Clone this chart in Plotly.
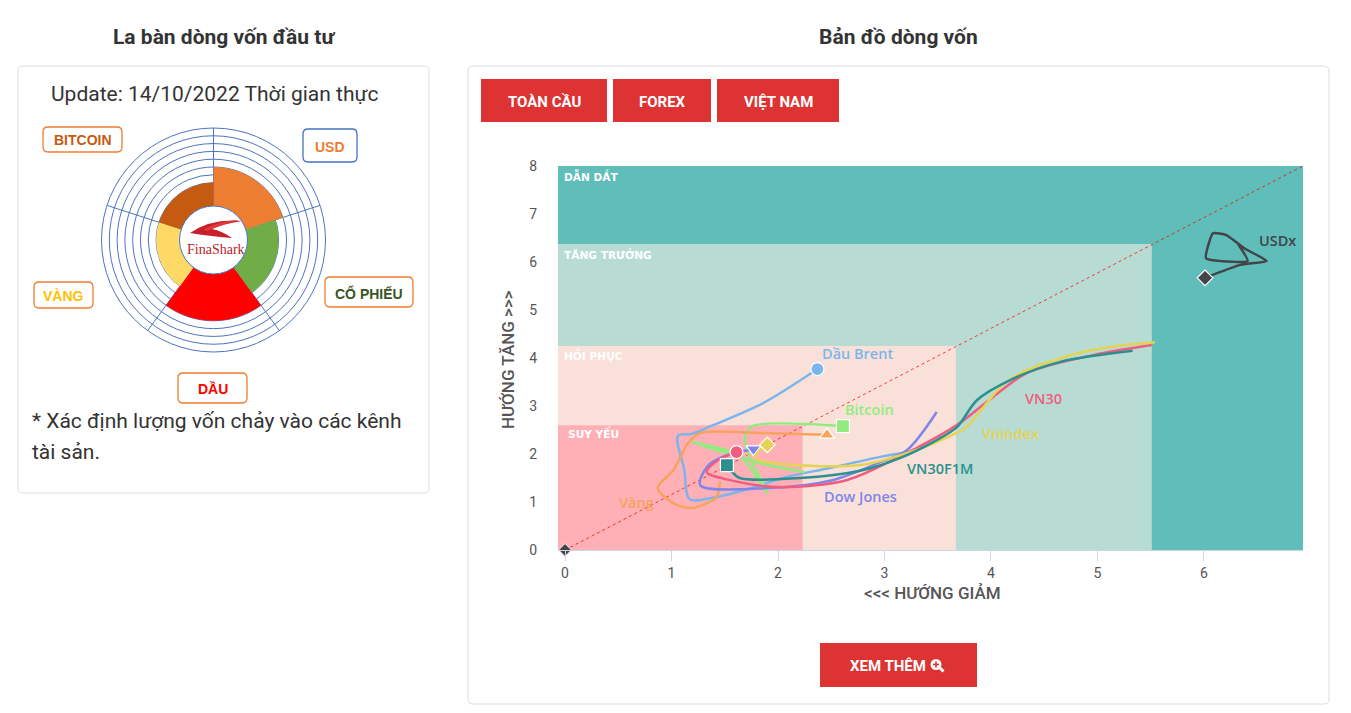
import plotly.graph_objects as go

W, H = 1351, 713
# the page shows the figure with an 8px top offset and a vertical scale of 697/713
OFF, HV = 8, 697

# ---------------- DATA ----------------
compass_names = ["USD", "CỔ PHIẾU", "DẦU", "VÀNG", "BITCOIN"]
compass_levels = [5, 4, 6, 3, 3]
compass_theta = [36, 108, 180, 252, 324]
compass_colors = ["#ED7D31", "#70AD47", "#FF0000", "#FFD966", "#C55A11"]
compass_rings = 10

zone_x = [2.23, 3.67, 5.51]        # SUY YẾU / HỒI PHỤC / TĂNG TRƯỞNG right edges
zone_y = [2.6, 4.25, 6.375]        # top edges
zone_names = ["SUY YẾU", "HỒI PHỤC", "TĂNG TRƯỞNG", "DẪN DẮT"]
x_min, x_max = -0.066, 6.93
y_min, y_max = 0, 8
x_ticks = [0, 1, 2, 3, 4, 5, 6]
y_ticks = [0, 1, 2, 3, 4, 5, 6, 7, 8]

diag_x = [0, 6.93]
diag_y = [0, 8]
origin_x = [0]
origin_y = [0]

brent_x = [3.17, 2.96, 2.49, 2.08, 1.69, 1.41, 1.17, 1.12, 1.06, 1.19, 1.39, 1.86, 2.37]
brent_y = [2.02, 1.94, 1.71, 1.52, 1.25, 1.10, 1.06, 1.67, 2.375, 2.42, 2.60, 3.06, 3.77]

bitcoin_x = [2.25, 1.83, 1.19, 1.64, 1.90, 1.72, 1.69, 1.76, 2.61]
bitcoin_y = [1.625, 1.81, 2.25, 1.96, 1.19, 2.00, 2.35, 2.58, 2.58]

vang_x = [1.455, 1.42, 1.20, 1.03, 0.87, 1.02, 1.155, 1.27, 1.83, 2.46]
vang_y = [1.42, 1.10, 0.875, 0.96, 1.29, 1.67, 2.23, 2.44, 2.44, 2.40]

dow_x = [3.49, 3.21, 2.96, 2.52, 1.90, 1.27, 1.34, 1.50, 1.77]
dow_y = [2.875, 2.08, 1.83, 1.46, 1.29, 1.35, 1.75, 1.96, 2.10]

vn30_x = [5.51, 4.96, 4.34, 4.02, 3.71, 3.49, 3.12, 2.65, 2.02, 1.58, 1.33, 1.44, 1.61]
vn30_y = [4.27, 4.06, 3.69, 3.19, 2.65, 2.35, 1.92, 1.46, 1.31, 1.44, 1.625, 1.875, 2.04]

vn30f_x = [5.33, 4.65, 4.18, 3.87, 3.68, 3.49, 3.15, 2.77, 2.21, 1.64, 1.56, 1.52]
vn30f_y = [4.15, 3.92, 3.54, 3.125, 2.56, 2.29, 1.92, 1.65, 1.50, 1.50, 1.65, 1.77]

vnindex_x = [5.54, 4.96, 4.34, 4.11, 3.96, 3.77, 3.64, 3.24, 2.77, 2.05, 1.78, 1.90]
vnindex_y = [4.33, 4.17, 3.75, 3.44, 3.06, 2.56, 2.40, 2.04, 1.77, 1.79, 1.92, 2.19]

usdx_x = [6.32, 6.41, 6.02, 6.085, 6.21, 6.39, 6.59, 6.34, 6.01]
usdx_y = [6.375, 6.02, 6.08, 6.60, 6.56, 6.27, 6.02, 5.94, 5.67]

series_names = ["Dầu Brent", "USDx", "Bitcoin", "Vàng", "Dow Jones", "VN30", "Vnindex", "VN30F1M"]
series_x = [brent_x, usdx_x, bitcoin_x, vang_x, dow_x, vn30_x, vnindex_x, vn30f_x]
series_y = [brent_y, usdx_y, bitcoin_y, vang_y, dow_y, vn30_y, vnindex_y, vn30f_y]

# ---------------- STYLE ----------------
series_colors = ["#7CB5EC", "#434348", "#90ED7D", "#F7A35C", "#8085E9", "#F15C80", "#E4D354", "#2B908F"]
series_symbols = ["circle", "diamond", "square", "triangle-up", "triangle-down", "circle", "diamond", "square"]
series_msize = [13, 12, 13, 13, 13, 13, 12, 13]
series_smooth = [0.9, 0.45, 0.8, 0.8, 0.9, 0.9, 0.9, 0.9]
label_pos = [(2.75, 4.10), (6.69, 6.44), (2.855, 2.92), (0.667, 0.98),
             (2.77, 1.125), (4.49, 3.15), (4.18, 2.42), (3.52, 1.69)]
zone_colors = ["#ffb0b6", "#f9e1d9", "#b8dcd4", "#5fbdba"]
zone_label_colors = ["#FF0000", "#FFC000", "#70AD47", "#2E75B6"]
zone_label_boxes = [(562, 424, 644, 441), (558, 347, 648, 363), (558, 246, 673, 262), (558, 168, 637, 185)]
BTN = "#DD3333"


def X(px):
    return px / W


def Y(py):
    return 1 - (py - OFF) / HV


def rr(x0, y0, x1, y1, r):
    return (f"M {X(x0 + r)},{Y(y0)} L {X(x1 - r)},{Y(y0)} Q {X(x1)},{Y(y0)} {X(x1)},{Y(y0 + r)} "
            f"L {X(x1)},{Y(y1 - r)} Q {X(x1)},{Y(y1)} {X(x1 - r)},{Y(y1)} "
            f"L {X(x0 + r)},{Y(y1)} Q {X(x0)},{Y(y1)} {X(x0)},{Y(y1 - r)} "
            f"L {X(x0)},{Y(y0 + r)} Q {X(x0)},{Y(y0)} {X(x0 + r)},{Y(y0)} Z")


fig = go.Figure()

# ---------------- Compass (polar) ----------------
fig.add_trace(go.Barpolar(
    r=compass_levels, theta=compass_theta, width=[72] * 5,
    marker=dict(color=compass_colors, line=dict(width=0)),
    hoverinfo="skip", subplot="polar"))

cx, cy, R = 213.5, 240, 112
fig.update_layout(polar=dict(
    domain=dict(x=[X(cx - R), X(cx + R)], y=[Y(cy + R), Y(cy - R)]),
    hole=34 / 112,
    bgcolor="white",
    radialaxis=dict(range=[0, compass_rings], tickvals=list(range(1, compass_rings + 1)),
                    showticklabels=False, ticks="", showline=False,
                    gridcolor="#4a74c0", gridwidth=1, layer="above traces"),
    angularaxis=dict(direction="clockwise", rotation=90, tickvals=[0, 72, 144, 216, 288],
                     showticklabels=False, ticks="", showline=True, linecolor="#4a74c0",
                     linewidth=1, gridcolor="#4a74c0", gridwidth=1, layer="above traces"),
))

# ---------------- Main scatter ----------------
fig.add_trace(go.Scatter(x=diag_x, y=diag_y, mode="lines",
                         line=dict(color="rgba(255,0,0,0.75)", width=1, dash="dot"),
                         hoverinfo="skip"))

for name, xs, ys, col, sym, ms, sm in zip(series_names, series_x, series_y, series_colors,
                                          series_symbols, series_msize, series_smooth):
    fig.add_trace(go.Scatter(x=xs, y=ys, mode="lines", name=name,
                             line=dict(color=col, width=2.5, shape="spline", smoothing=sm)))
    fig.add_trace(go.Scatter(x=[xs[-1]], y=[ys[-1]], mode="markers",
                             marker=dict(symbol=sym, size=ms, color=col,
                                         line=dict(color="white", width=1.2)),
                             hoverinfo="skip"))

fig.add_trace(go.Scatter(x=origin_x, y=origin_y, mode="markers",
                         marker=dict(symbol="diamond", size=10, color="#434348",
                                     line=dict(color="white", width=1)),
                         cliponaxis=False, hoverinfo="skip"))

shapes = []
annotations = []

# zones
zone_rights = zone_x + [x_max]
zone_tops = zone_y + [y_max]
for i in range(3, -1, -1):
    shapes.append(dict(type="rect", xref="x", yref="y", x0=x_min, x1=zone_rights[i],
                       y0=y_min, y1=zone_tops[i], fillcolor=zone_colors[i],
                       line=dict(width=0), layer="below"))

for name, col, (bx0, by0, bx1, by1) in zip(zone_names, zone_label_colors, zone_label_boxes):
    shapes.append(dict(type="rect", xref="paper", yref="paper", x0=X(bx0), x1=X(bx1),
                       y0=Y(by1), y1=Y(by0), fillcolor=col, line=dict(width=0), layer="below"))
    annotations.append(dict(xref="paper", yref="paper", x=X(bx0 + 4), y=Y((by0 + by1) / 2),
                            xanchor="left", yanchor="middle", showarrow=False, text=name,
                            font=dict(family="DejaVu Sans", size=10.6, color="white", weight="bold")))

# series labels
for name, col, (lx, ly) in zip(series_names, series_colors, label_pos):
    annotations.append(dict(xref="x", yref="y", x=lx, y=ly, text=name, showarrow=False,
                            xanchor="center", yanchor="middle",
                            font=dict(family="Open Sans", size=14.5, color=col, weight=600)))

# axis titles
annotations.append(dict(xref="paper", yref="paper", x=X(508), y=Y(360), text="HƯỚNG TĂNG >>>",
                        textangle=-90, showarrow=False, xanchor="center", yanchor="middle",
                        font=dict(family="Roboto", size=17, color="#555555", weight=500)))
annotations.append(dict(xref="paper", yref="paper", x=X(932), y=Y(593), text="<<< HƯỚNG GIẢM",
                        showarrow=False, xanchor="center", yanchor="middle",
                        font=dict(family="Roboto", size=17, color="#555555", weight=500)))

# cards
shapes.append(dict(type="path", xref="paper", yref="paper", path=rr(18, 66, 429, 493, 5),
                   line=dict(color="#dddddd", width=1), fillcolor="rgba(0,0,0,0)", layer="below"))
shapes.append(dict(type="path", xref="paper", yref="paper", path=rr(468, 66, 1329, 704, 5),
                   line=dict(color="#dddddd", width=1), fillcolor="rgba(0,0,0,0)", layer="below"))

# titles
annotations.append(dict(xref="paper", yref="paper", x=X(224), y=Y(37), text="La bàn dòng vốn đầu tư",
                        showarrow=False, xanchor="center", yanchor="middle",
                        font=dict(family="Roboto", size=21, color="#333333", weight="bold")))
annotations.append(dict(xref="paper", yref="paper", x=X(898), y=Y(37), text="Bản đồ dòng vốn",
                        showarrow=False, xanchor="center", yanchor="middle",
                        font=dict(family="Roboto", size=21, color="#333333", weight="bold")))
annotations.append(dict(xref="paper", yref="paper", x=X(215), y=Y(94),
                        text="Update: 14/10/2022 Thời gian thực",
                        showarrow=False, xanchor="center", yanchor="middle",
                        font=dict(family="Roboto", size=21, color="#333333")))
annotations.append(dict(xref="paper", yref="paper", x=X(30), y=Y(421),
                        text="* Xác định lượng vốn chảy vào các kênh",
                        showarrow=False, xanchor="left", yanchor="middle",
                        font=dict(family="Roboto", size=21, color="#333333")))
annotations.append(dict(xref="paper", yref="paper", x=X(30), y=Y(452), text="tài sản.",
                        showarrow=False, xanchor="left", yanchor="middle",
                        font=dict(family="Roboto", size=21, color="#333333")))

# compass labels
comp_boxes = {
    "BITCOIN": ((43, 127, 122, 152), "#C55A11", "#ED7D31"),
    "USD": ((303, 129, 357, 162), "#ED7D31", "#4472C4"),
    "CỔ PHIẾU": ((325, 277, 413, 307), "#375623", "#ED7D31"),
    "VÀNG": ((34, 282, 93, 308), "#FFC000", "#ED7D31"),
    "DẦU": ((178, 373, 247, 403), "#FF0000", "#ED7D31"),
}
for name in compass_names:
    (bx0, by0, bx1, by1), tcol, bcol = comp_boxes[name]
    shapes.append(dict(type="path", xref="paper", yref="paper", path=rr(bx0, by0, bx1, by1, 5),
                       line=dict(color=bcol, width=1.3), fillcolor="white", layer="above"))
    annotations.append(dict(xref="paper", yref="paper", x=X((bx0 + bx1) / 2), y=Y((by0 + by1) / 2 + 1),
                            text=name, showarrow=False, xanchor="center", yanchor="middle",
                            font=dict(family="Liberation Sans", size=14, color=tcol, weight="bold")))

# logo
shapes.append(dict(type="path", xref="paper", yref="paper", layer="above",
                   path=(f"M {X(190)},{Y(233)} Q {X(212)},{Y(218)} {X(242)},{Y(221)} "
                         f"Q {X(222)},{Y(224)} {X(212)},{Y(229)} Q {X(222)},{Y(231)} {X(232)},{Y(238)} "
                         f"Q {X(208)},{Y(236)} {X(190)},{Y(233)} Z"),
                   fillcolor="#C8202A", line=dict(width=0)))
shapes.append(dict(type="path", xref="paper", yref="paper", layer="above",
                   path=(f"M {X(204)},{Y(229)} Q {X(220)},{Y(221)} {X(239)},{Y(220)} "
                         f"Q {X(222)},{Y(225)} {X(206)},{Y(231)} Z"),
                   fillcolor="#E23A3A", line=dict(width=0)))
annotations.append(dict(xref="paper", yref="paper", x=X(216), y=Y(250), text="FinaShark",
                        showarrow=False, xanchor="center", yanchor="middle",
                        font=dict(family="Liberation Serif", size=14, color="#B5232A")))

# buttons
for label, (bx0, by0, bx1, by1) in [("TOÀN CẦU", (481, 79, 607, 122)), ("FOREX", (613, 79, 711, 122)),
                                     ("VIỆT NAM", (717, 79, 839, 122))]:
    shapes.append(dict(type="rect", xref="paper", yref="paper", x0=X(bx0), x1=X(bx1),
                       y0=Y(by1), y1=Y(by0), fillcolor=BTN, line=dict(width=0), layer="above"))
    annotations.append(dict(xref="paper", yref="paper", x=X((bx0 + bx1) / 2), y=Y((by0 + by1) / 2 + 1),
                            text=label, showarrow=False, xanchor="center", yanchor="middle",
                            font=dict(family="Roboto", size=15, color="white", weight="bold")))

shapes.append(dict(type="rect", xref="paper", yref="paper", x0=X(820), x1=X(977),
                   y0=Y(687), y1=Y(643), fillcolor=BTN, line=dict(width=0), layer="above"))
annotations.append(dict(xref="paper", yref="paper", x=X(888), y=Y(666), text="XEM THÊM",
                        showarrow=False, xanchor="center", yanchor="middle",
                        font=dict(family="Roboto", size=15, color="white", weight="bold")))
# magnifier icon
shapes.append(dict(type="line", xref="paper", yref="paper", x0=X(939), y0=Y(667), x1=X(943.5), y1=Y(671.5),
                   line=dict(color="white", width=3), layer="above"))
shapes.append(dict(type="circle", xref="paper", yref="paper", x0=X(930.5), x1=X(941.5), y0=Y(670), y1=Y(659),
                   fillcolor="white", line=dict(width=0), layer="above"))
shapes.append(dict(type="line", xref="paper", yref="paper", x0=X(933), x1=X(939), y0=Y(664.5), y1=Y(664.5),
                   line=dict(color=BTN, width=1.6), layer="above"))
shapes.append(dict(type="line", xref="paper", yref="paper", x0=X(936), x1=X(936), y0=Y(661.5), y1=Y(667.5),
                   line=dict(color=BTN, width=1.6), layer="above"))

fig.update_layout(
    width=W, height=H, autosize=False, margin=dict(l=0, r=0, t=0, b=0),
    paper_bgcolor="white", plot_bgcolor="rgba(0,0,0,0)", showlegend=False,
    xaxis=dict(domain=[X(558), X(1303)], range=[x_min, x_max], tickvals=x_ticks,
               showgrid=False, zeroline=False, showline=True, linecolor="#ccd6eb",
               ticks="outside", ticklen=10, tickcolor="#ccd6eb",
               tickfont=dict(family="Roboto", size=14, color="#555555")),
    yaxis=dict(domain=[Y(550), Y(166)], range=[y_min, y_max], tickvals=y_ticks,
               showgrid=False, zeroline=False, showline=False,
               ticks="outside", ticklen=17, tickcolor="rgba(0,0,0,0)",
               tickfont=dict(family="Roboto", size=14, color="#555555")),
    shapes=shapes, annotations=annotations,
)

fig.write_html("out.html")
